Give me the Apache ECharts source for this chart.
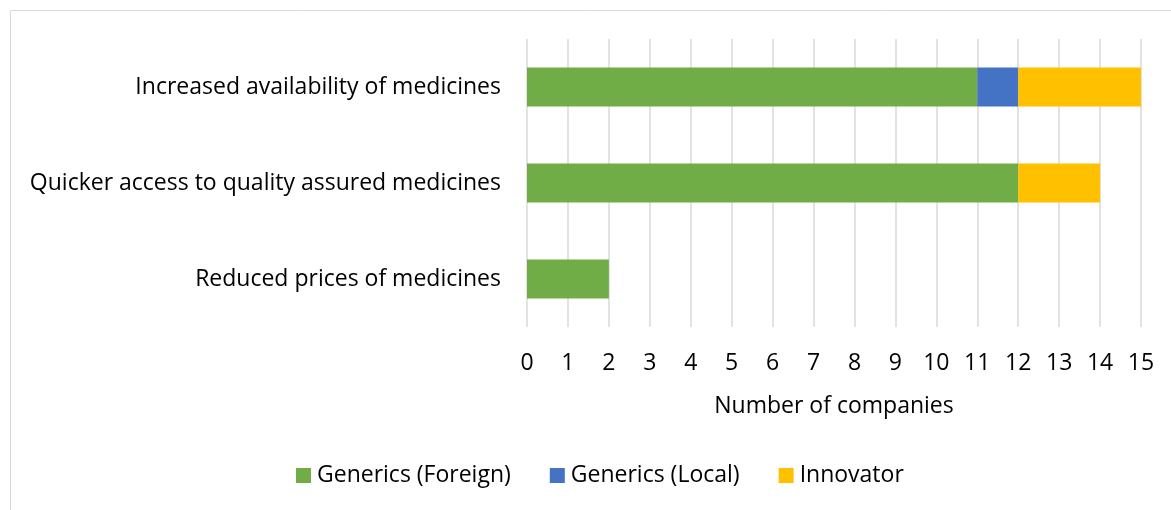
<!DOCTYPE html>
<html>
<head>
<meta charset="utf-8">
<script src="https://cdn.jsdelivr.net/npm/echarts@6/dist/echarts.min.js"></script>
<style>
  html, body { margin: 0; padding: 0; background: #ffffff; }
  #chart { width: 1171px; height: 510px; }
</style>
</head>
<body>
<div id="chart"></div>
<script>
// Reported benefits, counted per company type
const categories = [
  'Increased availability of medicines',
  'Quicker access to quality assured medicines',
  'Reduced prices of medicines'
];
const genericsForeign = [11, 12, 2];
const genericsLocal = [1, 0, 0];
const innovator = [3, 2, 0];
const xTicks = { min: 0, max: 15, interval: 1 };

const FONT = '"Open Sans", sans-serif';
const SIZE = 23;
const chart = echarts.init(document.getElementById('chart'));

function stackSeries(name, data, color) {
  return {
    name: name,
    type: 'bar',
    stack: 'total',
    data: data,
    barWidth: 39,
    itemStyle: { color: color },
    emphasis: { disabled: true }
  };
}

chart.setOption({
  animation: false,
  textStyle: { fontFamily: FONT },
  graphic: [{
    type: 'rect',
    shape: { x: 10.5, y: 10.5, width: 1300, height: 700 },
    style: { fill: 'none', stroke: '#D9D9D9', lineWidth: 1 },
    silent: true
  }],
  grid: { left: 527, right: 30, top: 39, height: 288 },
  xAxis: {
    type: 'value',
    min: xTicks.min,
    max: xTicks.max,
    interval: xTicks.interval,
    name: 'Number of companies',
    nameLocation: 'middle',
    nameGap: 68,
    nameTextStyle: { color: '#000', fontSize: SIZE, fontFamily: FONT },
    axisLine: { show: false },
    axisTick: { show: false },
    axisLabel: { color: '#000', fontSize: SIZE, margin: 25, fontFamily: FONT },
    splitLine: { show: true, lineStyle: { color: '#D9D9D9', width: 1.5 } }
  },
  yAxis: {
    type: 'category',
    data: categories,
    inverse: true,
    axisLine: { show: false },
    axisTick: { show: false },
    axisLabel: { color: '#000', fontSize: SIZE, margin: 26, fontFamily: FONT }
  },
  legend: {
    top: 464,
    left: 296,
    padding: 0,
    itemWidth: 15,
    itemHeight: 15,
    itemGap: 39,
    icon: 'rect',
    textStyle: { color: '#000', fontSize: SIZE, fontFamily: FONT, padding: [0, 0, 0, 1] },
    data: ['Generics (Foreign)', 'Generics (Local)', 'Innovator']
  },
  series: [
    stackSeries('Generics (Foreign)', genericsForeign, '#70AD47'),
    stackSeries('Generics (Local)', genericsLocal, '#4472C4'),
    stackSeries('Innovator', innovator, '#FFC000')
  ]
});
</script>
</body>
</html>
